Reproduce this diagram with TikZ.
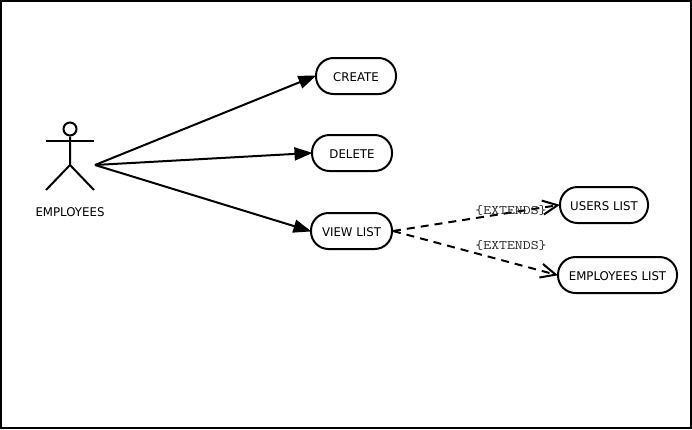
\documentclass[tikz,border=0pt]{standalone}
\usepackage{fontspec}
\setmainfont[FakeStretch=0.98]{DejaVu Sans}
\setmonofont[FakeStretch=1.18]{Latin Modern Mono}
\usetikzlibrary{arrows.meta}
\tikzset{
  usecase/.style={draw=black,line width=2pt,rounded corners=17.5pt,fill=white,inner sep=0pt,minimum height=36pt,text=black,font=\fontsize{12}{14}\selectfont,text height=11pt,text depth=0pt},
  assoc/.style={line width=2pt,shorten >=-1.5pt,-{Triangle[length=18pt,width=13pt]}},
  ext/.style={line width=2pt,dash pattern=on 8pt off 6pt,shorten >=-1pt,-{Straight Barb[length=15pt,width=14pt,line width=2pt]}},
  stick/.style={line width=2pt,line cap=butt},
  lbl/.style={font=\fontsize{12}{14}\selectfont,inner sep=0pt},
  extlbl/.style={font=\ttfamily\fontsize{13}{15}\selectfont,inner sep=0pt,text=black!85}
}
\begin{document}
\begin{tikzpicture}[x=1pt,y=-1pt]
\useasboundingbox (0,0) rectangle (692,429);
\draw[line width=2pt] (1,1) rectangle (691,428);
\node[draw,circle,line width=2pt,minimum size=13pt,inner sep=0pt] (head) at (70,129) {};
\coordinate (hip) at (70,165);
\coordinate (larm) at (46,141);
\coordinate (rarm) at (94,141);
\coordinate (lfoot) at (46,190);
\coordinate (rfoot) at (94,190);
\coordinate (actor) at (95,165);
\draw[stick] (head.south) -- (hip) -- (lfoot);
\draw[stick] (hip) -- (rfoot);
\draw[stick] (larm) -- (rarm);
\node[lbl] (emp) at (70,212) {EMPLOYEES};
\node[usecase,minimum width=80pt] (create) at (356,76) {CREATE};
\node[usecase,minimum width=80pt] (delete) at (352,153) {DELETE};
\node[usecase,minimum width=81pt] (view) at (351.5,231) {VIEW LIST};
\node[usecase,minimum width=88pt] (users) at (604,205) {USERS LIST};
\node[usecase,minimum width=119pt] (emplist) at (617.5,275) {EMPLOYEES LIST};
\draw[assoc] (actor) -- (create.west);
\draw[assoc] (actor) -- (delete.west);
\draw[assoc] (actor) -- (view.west);
\draw[ext] (view.east) -- (users.west);
\draw[ext] (view.east) -- (emplist.west);
\node[extlbl] (e1) at (511,211) {\{EXTENDS\}};
\node[extlbl] (e2) at (511,246) {\{EXTENDS\}};
\end{tikzpicture}
\end{document}
